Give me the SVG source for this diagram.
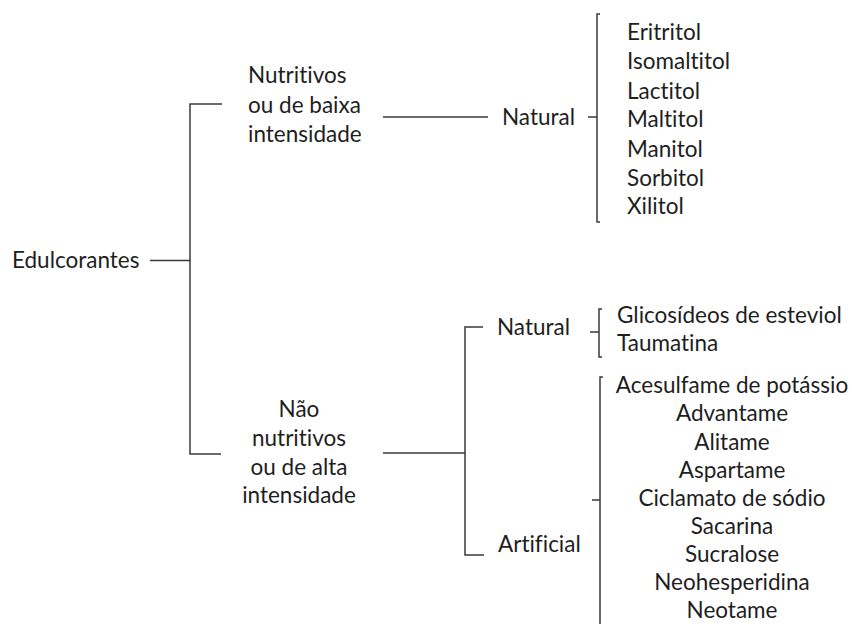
<svg xmlns="http://www.w3.org/2000/svg" width="852" height="624" viewBox="0 0 852 624">
<style>
text{font-family:Lato,"Open Sans","Liberation Sans",sans-serif;font-size:22.5px;fill:#1e1e1e;font-variant-ligatures:none;font-feature-settings:"liga" 0,"clig" 0}
.c{text-anchor:middle}
.ln{stroke:#3a3a3a;stroke-width:1.5;fill:none}
</style>
<rect width="852" height="624" fill="#fff"/>
<g id="connectors">
<path class="ln" d="M150 260.5H190M222 104H190V454H221"/>
<path class="ln" d="M383 117H488M588 117H597M600 14H597V222H600"/>
<path class="ln" d="M383 453H465M483 327H465V555H484"/>
<path class="ln" d="M590 332H599M602 309H599V357H602"/>
<path class="ln" d="M592 500H600M603 377H600V624"/>
</g>
<g id="edulcorantes"><text x="12" y="268">Edulcorantes</text></g>
<g id="nutritivos"><text x="248" y="83">Nutritivos</text><text x="248" y="113">ou de baixa</text><text x="248" y="142">intensidade</text></g>
<g id="natural1"><text x="502" y="125">Natural</text></g>
<g id="polyols"><text x="627" y="40">Eritritol</text><text x="627" y="69">Isomaltitol</text><text x="627" y="99">Lactitol</text><text x="627" y="127">Maltitol</text><text x="627" y="157">Manitol</text><text x="627" y="186">Sorbitol</text><text x="627" y="214">Xilitol</text></g>
<g id="nao-nutritivos"><text class="c" x="299" y="417">Não</text><text class="c" x="299" y="446">nutritivos</text><text class="c" x="299" y="475">ou de alta</text><text class="c" x="299" y="503">intensidade</text></g>
<g id="natural2"><text x="497" y="335">Natural</text></g>
<g id="artificial"><text x="498" y="552">Artificial</text></g>
<g id="natural2-items"><text x="617" y="323">Glicosídeos de esteviol</text><text x="617" y="351">Taumatina</text></g>
<g id="artificial-items"><text class="c" x="732" y="393">Acesulfame de potássio</text><text class="c" x="732" y="421">Advantame</text><text class="c" x="732" y="449.5">Alitame</text><text class="c" x="732" y="477.5">Aspartame</text><text class="c" x="732" y="505.5">Ciclamato de sódio</text><text class="c" x="732" y="534">Sacarina</text><text class="c" x="732" y="562">Sucralose</text><text class="c" x="732" y="590">Neohesperidina</text><text class="c" x="732" y="618">Neotame</text></g>
</svg>
